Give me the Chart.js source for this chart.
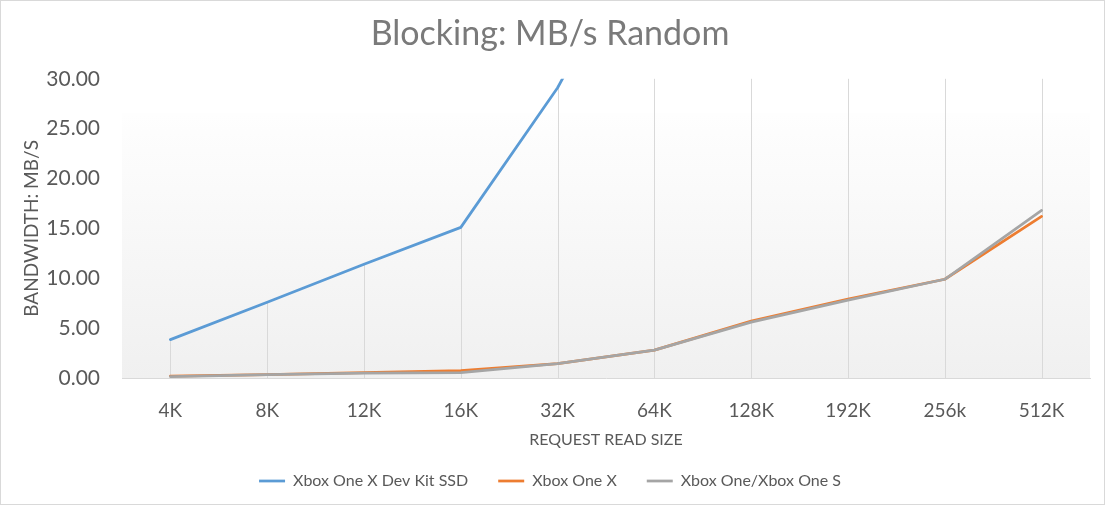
<!DOCTYPE html>
<html>
<head>
<meta charset="utf-8">
<script src="https://cdn.jsdelivr.net/npm/chart.js@4.4.1/dist/chart.umd.min.js"></script>
<style>
  html, body { margin: 0; padding: 0; background: #ffffff; }
  #wrap { width: 1105px; height: 505px; }
</style>
</head>
<body>
<div id="wrap"><canvas id="c" width="1105" height="505"></canvas></div>
<script>
const categories = ['4K', '8K', '12K', '16K', '32K', '64K', '128K', '192K', '256k', '512K'];
const devKitSSD  = [3.85, 7.6, 11.4, 15.1, 29.1, 47, 80, 105, 125, 180];
const xboxOneX   = [0.2, 0.35, 0.55, 0.75, 1.45, 2.8, 5.7, 7.9, 9.9, 16.2];
const xboxOneS   = [0.15, 0.35, 0.5, 0.55, 1.45, 2.8, 5.6, 7.8, 9.9, 16.8];
const yTicks     = [0, 5, 10, 15, 20, 25, 30];
const seriesNames = ['Xbox One X Dev Kit SSD', 'Xbox One X', 'Xbox One/Xbox One S'];

const FONT = 'Lato, "Open Sans", sans-serif';
const TEXT = '#595959';
const LINE_W = 2.75;

const backgroundPlugin = {
  id: 'bgPlot',
  beforeDraw(chart) {
    const {ctx, chartArea: a, width, height} = chart;
    ctx.save();
    ctx.fillStyle = '#ffffff';
    ctx.fillRect(0, 0, width, height);
    const top = a.top + a.height * 0.115;
    const g = ctx.createLinearGradient(0, top, 0, a.bottom);
    g.addColorStop(0, '#fefefe');
    g.addColorStop(1, '#f0f0f0');
    ctx.fillStyle = g;
    ctx.fillRect(a.left, top, a.right - a.left, a.bottom - top);
    ctx.strokeStyle = '#d9d9d9';
    ctx.lineWidth = 1;
    ctx.strokeRect(0.5, 0.5, width - 1, height - 1);
    ctx.restore();
  }
};

const dropLinePlugin = {
  id: 'dropLines',
  beforeDatasetsDraw(chart) {
    const {ctx, chartArea: a, scales} = chart;
    ctx.save();
    ctx.strokeStyle = '#d9d9d9';
    ctx.lineWidth = 1;
    categories.forEach((c, i) => {
      const maxV = Math.max(...chart.data.datasets.map(d => d.data[i]));
      const x = Math.round(scales.x.getPixelForValue(i)) + 0.5;
      const y = Math.max(a.top, scales.y.getPixelForValue(maxV));
      ctx.beginPath();
      ctx.moveTo(x, y);
      ctx.lineTo(x, a.bottom);
      ctx.stroke();
    });
    ctx.restore();
  }
};

new Chart(document.getElementById('c'), {
  type: 'line',
  data: {
    labels: categories,
    datasets: [
      { label: seriesNames[0], data: devKitSSD, borderColor: '#5b9bd5', backgroundColor: '#5b9bd5', borderWidth: LINE_W, order: 2 },
      { label: seriesNames[1], data: xboxOneX, borderColor: '#ed7d31', backgroundColor: '#ed7d31', borderWidth: LINE_W, order: 1 },
      { label: seriesNames[2], data: xboxOneS, borderColor: '#a5a5a5', backgroundColor: '#a5a5a5', borderWidth: LINE_W, order: 0 }
    ]
  },
  options: {
    responsive: false,
    animation: false,
    layout: { padding: { left: 10, right: 15, top: 0, bottom: 6 } },
    elements: {
      line: { tension: 0, borderJoinStyle: 'round', borderCapStyle: 'round', fill: false },
      point: { radius: 0, hoverRadius: 0 }
    },
    plugins: {
      title: {
        display: true,
        text: 'Blocking: MB/s Random',
        color: '#7a7a7a',
        font: { family: FONT, size: 34, weight: 'normal' },
        padding: { top: 14, bottom: 24 }
      },
      legend: {
        position: 'bottom',
        labels: {
          usePointStyle: true,
          pointStyle: 'line',
          pointStyleWidth: 26,
          color: TEXT,
          padding: 30,
          font: { family: FONT, size: 16 },
          sort: (a, b) => a.datasetIndex - b.datasetIndex
        }
      },
      tooltip: { enabled: false }
    },
    scales: {
      x: {
        offset: true,
        afterFit: s => { s.height = 65; },
        grid: { display: false, drawTicks: false },
        border: { display: true, color: '#d9d9d9', width: 1 },
        ticks: { color: TEXT, font: { family: FONT, size: 19 }, padding: 21, maxRotation: 0 },
        title: { display: true, text: 'REQUEST READ SIZE', color: TEXT, font: { family: FONT, size: 16 }, padding: { top: 0, bottom: -6 } }
      },
      y: {
        min: 0, max: 30,
        afterBuildTicks: s => { s.ticks = yTicks.map(v => ({ value: v })); },
        afterFit: s => { s.width = 112; },
        grid: { display: false, drawTicks: false },
        border: { display: false },
        ticks: { color: TEXT, font: { family: FONT, size: 21 }, padding: 22, callback: v => Number(v).toFixed(2) },
        title: { display: true, text: 'BANDWIDTH: MB/S', color: TEXT, font: { family: FONT, size: 19 }, padding: { top: 10, bottom: 0 } }
      }
    }
  },
  plugins: [backgroundPlugin, dropLinePlugin]
});
</script>
</body>
</html>
